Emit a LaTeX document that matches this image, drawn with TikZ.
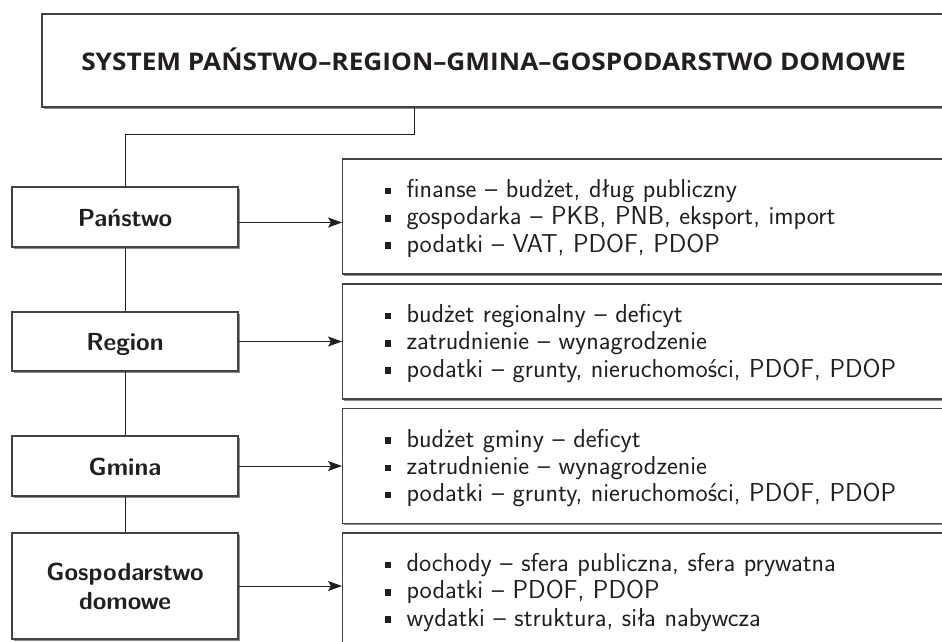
\documentclass[tikz,border=0pt]{standalone}
\usepackage{fontspec}
\newfontfamily\titlefont{Open Sans}[FakeStretch=1.08]
\usetikzlibrary{arrows.meta,shadows}
\definecolor{ink}{HTML}{231F20}
\newcommand\bul{\raisebox{3.3pt}{\rule{6.5pt}{6.5pt}}\hspace{15.5pt}}
\newcommand\fst{\rule{0pt}{22pt}}
\tikzset{
  boxshadow/.style={drop shadow={shadow xshift=1.6pt,shadow yshift=-1.6pt,fill=black!45,opacity=1}},
  titlebox/.style={draw=ink!85,line width=1.1pt,fill=white,boxshadow,
    minimum width=903pt,minimum height=93pt,inner sep=0pt,text height=20.4pt,text depth=0pt,
    font=\titlefont\bfseries\fontsize{24.3}{28}\selectfont,text=ink},
  lbox/.style={draw=ink!85,line width=1.1pt,fill=white,boxshadow,
    minimum width=226pt,inner sep=0pt,align=center,
    font=\sffamily\bfseries\fontsize{24.7}{29}\selectfont,text=ink},
  lone/.style={text height=22pt,text depth=4pt},
  rbox/.style={draw=ink!85,line width=1.1pt,fill=white,boxshadow,anchor=west,
    minimum height=115pt,inner xsep=42pt,inner ysep=0pt,text width=556pt,align=left,
    font=\sffamily\fontsize{25.9}{27.3}\selectfont,text=ink},
  conn/.style={draw=ink,line width=0.9pt},
  arr/.style={draw=ink,line width=0.9pt,-{Stealth[length=14pt,width=10pt,inset=3pt]}}
}
\begin{document}
\begin{tikzpicture}[x=1pt,y=-1pt]
\useasboundingbox (0,0) rectangle (942,641);
\clip (0,0) rectangle (942,641);
\fill[white] (0,0) rectangle (942,641);
% title
\node[titlebox] (top) at (493.5,60.5) {SYSTEM PAŃSTWO–REGION–GMINA–GOSPODARSTWO DOMOWE};
% left boxes
\node[lbox,lone,minimum height=60pt] (P) at (125,217) {Państwo};
\node[lbox,lone,minimum height=59pt] (R) at (125,341.5) {Region};
\node[lbox,lone,minimum height=60pt] (G) at (125,466) {Gmina};
\node[lbox,minimum height=106pt] (D) at (125,586) {Gospodarstwo\\domowe};
% right boxes
\node[rbox] (P1) at (342,216.5) {\fst\bul finanse – budżet, dług publiczny\\\bul gospodarka – PKB, PNB, eksport, import\\\bul podatki – VAT, PDOF, PDOP};
\node[rbox] (R1) at (342,341.5) {\fst\bul budżet regionalny – deficyt\\\bul zatrudnienie – wynagrodzenie\\\bul podatki – grunty, nieruchomości, PDOF, PDOP};
\node[rbox] (G1) at (342,466) {\fst\bul budżet gminy – deficyt\\\bul zatrudnienie – wynagrodzenie\\\bul podatki – grunty, nieruchomości, PDOF, PDOP};
\node[rbox] (D1) at (342,590.5) {\fst\bul dochody – sfera publiczna, sfera prywatna\\\bul podatki – PDOF, PDOP\\\bul wydatki – struktura, siła nabywcza};
% connectors
\coordinate (j) at (414,134);
\draw[conn] (j |- top.south) -- (j) -| (P.north);
\draw[conn] (P.south) -- (R.north);
\draw[conn] (R.south) -- (G.north);
\draw[conn] (G.south) -- (D.north);
% arrows
\draw[arr] ([yshift=-5.5pt]P.east) -- ([yshift=-5.5pt]P.east -| P1.west);
\draw[arr] (R.east) -- (R.east -| R1.west);
\draw[arr] (G.east) -- (G.east -| G1.west);
\draw[arr] (D.east) -- (D.east -| D1.west);
\end{tikzpicture}
\end{document}
